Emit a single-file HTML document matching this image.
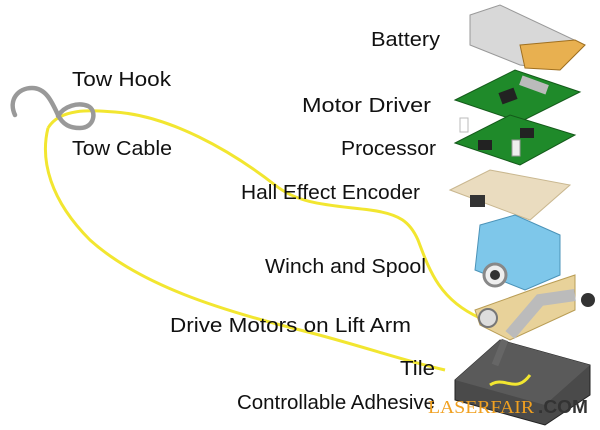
<!DOCTYPE html>
<html><head><meta charset="utf-8"><style>
html,body{margin:0;padding:0;background:#fff}
svg{display:block}
text{font-family:"Liberation Sans",sans-serif;font-size:20px;fill:#111}
</style></head><body>
<svg width="600" height="430" viewBox="0 0 600 430" xmlns="http://www.w3.org/2000/svg">
<!-- cable -->
<path d="M48,128 C60,108 90,110 115,112 C170,116 230,150 275,185 C300,205 330,205 370,210 C400,214 410,222 418,240 C430,272 440,300 480,318" fill="none" stroke="#f2e630" stroke-width="3"/>
<path d="M48,128 C40,160 50,200 90,240 C140,285 220,310 300,330 C360,345 400,360 445,370" fill="none" stroke="#f2e630" stroke-width="3"/>
<!-- hook -->
<path d="M15,115 C8,100 18,88 32,88 C46,88 52,102 58,115 C63,125 70,128 80,128 C95,128 97,110 88,106 C78,102 64,106 58,116" fill="none" stroke="#999" stroke-width="4.5" stroke-linecap="round"/>
<!-- battery -->
<polygon points="470,15 500,5 585,45 560,70 520,65 470,45" fill="#d8d8d8" stroke="#999"/>
<polygon points="520,45 575,40 585,45 560,70 525,68" fill="#e8b050" stroke="#a07020"/>
<!-- board 1 -->
<polygon points="455,100 515,70 580,92 520,122" fill="#1f8a2a" stroke="#145a1a"/>
<rect x="500" y="90" width="16" height="12" fill="#222" transform="rotate(-20 508 96)"/>
<rect x="520" y="80" width="28" height="10" fill="#bbb" transform="rotate(20 534 85)"/>
<!-- board 2 -->
<polygon points="455,143 510,115 575,135 520,165" fill="#1f8a2a" stroke="#145a1a"/>
<rect x="478" y="140" width="14" height="10" fill="#222"/>
<rect x="520" y="128" width="14" height="10" fill="#222"/>
<rect x="512" y="140" width="8" height="16" fill="#eee" stroke="#999"/>
<rect x="460" y="118" width="8" height="14" fill="#fff" stroke="#bbb"/>
<!-- encoder -->
<polygon points="450,190 490,170 570,185 530,220" fill="#eadcbf" stroke="#c9b78f"/>
<rect x="470" y="195" width="15" height="12" fill="#333"/>
<!-- winch -->
<polygon points="480,225 515,215 560,235 560,275 525,290 475,270" fill="#7ec7ea" stroke="#4b93b8"/>
<circle cx="495" cy="275" r="11" fill="#eee" stroke="#888" stroke-width="3"/>
<circle cx="495" cy="275" r="5" fill="#333"/>
<!-- arm -->
<polygon points="475,310 545,285 575,275 575,310 510,340 480,325" fill="#e8d29a" stroke="#b99d55"/>
<circle cx="488" cy="318" r="9" fill="#ddd" stroke="#777" stroke-width="2"/>
<path d="M510,335 L540,300 L575,295" stroke="#bbb" stroke-width="12" fill="none"/>
<circle cx="588" cy="300" r="7" fill="#333"/>
<!-- tile -->
<polygon points="455,380 500,340 590,365 590,395 545,425 455,400" fill="#4a4a4a" stroke="#222"/>
<polygon points="455,380 500,340 590,365 545,405" fill="#5a5a5a"/>
<path d="M490,385 C505,375 515,395 530,375" stroke="#f2e630" stroke-width="3" fill="none"/>
<path d="M495,365 L505,340" stroke="#666" stroke-width="7"/>
<!-- labels -->
<text x="371" y="46" textLength="69" lengthAdjust="spacingAndGlyphs">Battery</text>
<text x="72" y="86" textLength="99" lengthAdjust="spacingAndGlyphs">Tow Hook</text>
<text x="302" y="112" textLength="129" lengthAdjust="spacingAndGlyphs">Motor Driver</text>
<text x="72" y="155" textLength="100" lengthAdjust="spacingAndGlyphs">Tow Cable</text>
<text x="341" y="155" textLength="95" lengthAdjust="spacingAndGlyphs">Processor</text>
<text x="241" y="199" textLength="179" lengthAdjust="spacingAndGlyphs">Hall Effect Encoder</text>
<text x="265" y="273" textLength="161" lengthAdjust="spacingAndGlyphs">Winch and Spool</text>
<text x="170" y="332" textLength="241" lengthAdjust="spacingAndGlyphs">Drive Motors on Lift Arm</text>
<text x="400" y="375" textLength="35" lengthAdjust="spacingAndGlyphs">Tile</text>
<text x="237" y="409" textLength="198" lengthAdjust="spacingAndGlyphs">Controllable Adhesive</text>
<text x="428" y="413" textLength="106" lengthAdjust="spacingAndGlyphs" style="font-family:'Liberation Serif',serif;font-size:18px;fill:#f0a020">LASERFAIR</text>
<text x="538" y="413" textLength="50" lengthAdjust="spacingAndGlyphs" style="font-weight:bold;font-size:18px;fill:#333">.COM</text>
</svg>
</body></html>
